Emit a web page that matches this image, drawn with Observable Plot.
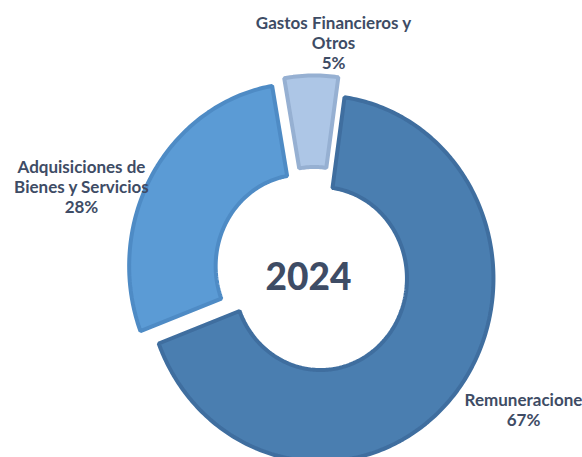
<!DOCTYPE html>
<html>
<head>
<meta charset="utf-8">
<script src="https://cdn.jsdelivr.net/npm/d3@7"></script>
<script src="https://cdn.jsdelivr.net/npm/@observablehq/plot@0.6"></script>
<style>
  html, body { margin: 0; padding: 0; background: #ffffff; }
  #chart { width: 582px; height: 457px; overflow: hidden; }
</style>
</head>
<body>
<div id="chart"></div>
<script>
// ---- data ----
const categories = ["Remuneracione", "Adquisiciones de\nBienes y Servicios", "Gastos Financieros y\nOtros"];
const values = [67, 28, 5];
const percentLabels = ["67%", "28%", "5%"];
const centerTitle = "2024";

// ---- styles ----
const fills = ["#4a7eb0", "#5b9bd5", "#adc6e6"];
const strokes = ["#3f6e9f", "#4e8bc5", "#96b0d2"];
const explode = [0.044, 0.082, 0.082];      // offset along mid-angle, in outer-radius units
const innerRatio = 0.5;
const startDeg = 8;
// label anchor positions in chart units (outer radius = 1)
const labelPos = [[1.208, -0.743], [-1.347, 0.475], [0.110, 1.262]];
const textColor = "#3e4c65";

// ---- geometry (via d3.pie) ----
const pie = d3.pie().sort(null).startAngle(startDeg * Math.PI / 180)
  .endAngle(startDeg * Math.PI / 180 + 2 * Math.PI);
const arcs = pie(values);

const pts = [];
arcs.forEach((a, i) => {
  const mid = (a.startAngle + a.endAngle) / 2;
  const ox = Math.sin(mid) * explode[i];
  const oy = Math.cos(mid) * explode[i];
  const n = Math.max(4, Math.ceil((a.endAngle - a.startAngle) / (Math.PI / 180)));
  for (let k = 0; k <= n; k++) {
    const t = a.startAngle + (a.endAngle - a.startAngle) * k / n;
    pts.push({slice: i, x: ox + Math.sin(t), y: oy + Math.cos(t)});
  }
  for (let k = n; k >= 0; k--) {
    const t = a.startAngle + (a.endAngle - a.startAngle) * k / n;
    pts.push({slice: i, x: ox + innerRatio * Math.sin(t), y: oy + innerRatio * Math.cos(t)});
  }
});

const labels = categories.map((c, i) => ({
  text: c + "\n" + percentLabels[i], x: labelPos[i][0], y: labelPos[i][1]
}));

const W = 582, H = 457;
const cx = 314, cy = 273, rx = 173, ry = 183;

const sliceMarks = arcs.map((a, i) =>
  Plot.line(pts.filter(p => p.slice === i), {
    x: "x", y: "y", curve: "linear-closed",
    fill: fills[i], stroke: strokes[i], strokeWidth: 4, strokeLinejoin: "miter"
  })
);

const chart = Plot.plot({
  width: W, height: H,
  margin: 0,
  x: {domain: [-cx / rx, (W - cx) / rx], axis: null},
  y: {domain: [(cy - H) / ry, cy / ry], axis: null},
  style: {background: "#ffffff", fontFamily: "Lato, sans-serif"},
  marks: [
    ...sliceMarks,
    Plot.text(labels, {
      x: "x", y: "y", text: "text", lineAnchor: "middle", lineHeight: 1.18,
      fontSize: 17, fontWeight: "bold", fill: textColor, textAnchor: "middle"
    }),
    Plot.text([centerTitle], {
      x: [-0.035], y: [-0.027], text: d => d, lineAnchor: "middle",
      fontSize: 37, fontWeight: 900, fill: textColor, textAnchor: "middle"
    })
  ]
});
document.getElementById("chart").appendChild(chart);
</script>
</body>
</html>
